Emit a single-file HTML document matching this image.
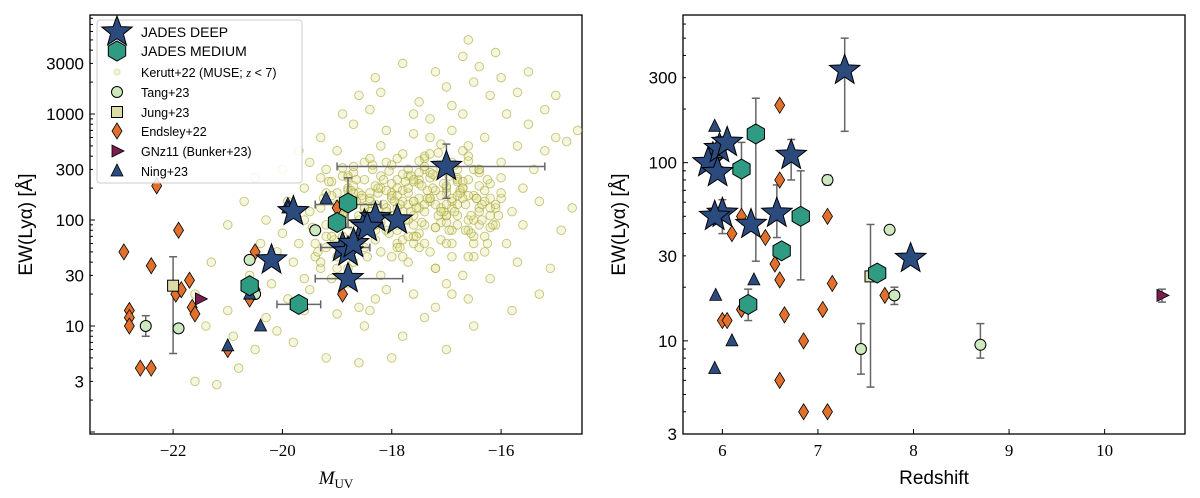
<!DOCTYPE html>
<html><head><meta charset="utf-8"><style>
html,body{margin:0;padding:0;background:#fff;}
svg{display:block;font-family:"Liberation Serif",serif;}
</style></head><body>
<svg id="c" width="1200" height="498" viewBox="0 0 1200 498" xmlns="http://www.w3.org/2000/svg"></svg>
<script>
// ---------- data ----------
const kerM=[-21.6,-21.2,-20.8,-20.5,-20.9,-20.3,-20.1,-19.8,-20.6,-20.2,-19.9,-19.6,-19.5,-19.3,-19.1,-19.4,-19.7,-20.0,-20.3,-19.9,-19.6,-19.3,-19.1,-18.9,-18.7,-18.8,-18.6,-18.5,-18.3,-18.2,-18.0,-17.9,-18.1,-18.4,-18.6,-18.8,-18.5,-18.2,-18.0,-17.8,-17.6,-17.5,-17.3,-17.2,-17.0,-16.9,-16.7,-16.5,-16.3,-16.6,-16.8,-17.0,-17.2,-17.4,-17.1,-16.9,-16.6,-16.4,-16.2,-16.0,-15.8,-15.6,-15.4,-15.2,-15.0,-14.8,-15.5,-15.9,-16.2,-16.5,-16.7,-16.9,-17.3,-17.6,-17.8,-18.1,-18.4,-18.7,-19.0,-19.2,-19.5,-17.5,-17.7,-17.9,-17.1,-17.3,-16.8,-17.6,-18.3,-18.9,-19.2,-17.4,-16.4,-16.1,-15.9,-15.7,-16.2,-16.6,-17.4,-17.8,-18.0,-18.6,-19.2,-17.0,-16.5,-15.8,-15.3,-15.1,-14.9,-14.7,-15.3,-15.6,-16.0,-16.3,-16.7,-17.0,-17.5,-17.2,-16.4,-16.0,-15.7,-15.2,-19.6,-19.4,-19.0,-18.7,-18.4,-18.2,-17.9,-17.7,-17.5,-17.7,-18.1,-18.4,-19.0,-19.8,-20.1,-20.4,-20.7,-20.5,-21.0,-21.3,-21.6,-21.4,-21.0,-20.0,-19.7,-19.3,-18.9,-18.6,-18.3,-17.8,-16.6,-16.1,-15.5,-15.0,-14.6,-17.6,-17.2,-16.9,-16.3,-18.8,-19.6,-16.0,-15.7,-16.8,-17.6,-18.2,-17.0,-17.3,-16.8,-16.5,-17.9,-18.3,-17.6,-16.9,-16.2,-17.4,-18.0,-18.7,-16.6,-17.1,-17.8];
const kerEW=[3,2.8,4,6,8,12,9,7,30,25,18,14,22,35,28,45,60,75,100,150,200,130,90,70,40,25,15,10,18,30,45,60,80,120,180,250,350,500,220,150,110,75,50,35,25,20,30,45,70,100,140,180,260,380,520,700,400,300,220,160,120,200,300,450,600,550,800,1000,1500,2000,3500,1200,900,650,420,700,1100,800,450,300,350,240,300,200,130,160,90,90,65,110,55,120,130,90,60,40,28,18,12,8,5,4.5,5,6,10,14,20,35,80,130,150,90,250,600,1000,1800,1300,2500,2800,2200,1600,1100,100,80,180,140,160,110,130,180,55,40,22,14,13,40,50,60,150,250,90,40,20,10,14,300,450,600,1000,1500,2200,3000,5000,3800,2500,1500,700,20,15,45,50,35,28,350,500,250,1000,1600,200,150,110,170,240,90,60,80,160,300,180,70,45,95,65];
const kerCoreM=[-19.4,-19.2,-19.0,-18.8,-18.6,-18.4,-18.2,-18.0,-17.8,-17.6,-17.4,-17.2,-17.0,-16.8,-16.6,-16.4,-16.2,-19.3,-19.1,-18.9,-18.7,-18.5,-18.3,-18.1,-17.9,-17.7,-17.5,-17.3,-17.1,-16.9,-16.7,-16.5,-16.3,-19.5,-19.0,-18.5,-18.0,-17.5,-17.0,-16.5,-16.0,-19.2,-18.7,-18.2,-17.7,-17.2,-16.7,-16.2,-18.9,-18.4,-17.9,-17.4,-16.9,-16.4,-18.6,-18.1,-17.6,-17.1,-16.6,-17.8,-17.3,-16.8,-18.3,-17.5,-17.0,-16.5,-19.1,-18.6,-18.0,-17.4,-16.9,-16.1,-17.7,-17.2,-16.7,-18.8,-18.3,-17.8,-17.3,-16.8,-16.3,-19.0,-18.5,-17.9,-17.2,-16.6,-17.6,-17.1,-16.4,-18.2,-17.7,-17.0,-16.6,-18.4,-17.9,-17.4,-16.9,-18.7,-18.1,-17.5];
const kerCoreEW=[60,90,140,200,75,150,260,110,190,70,320,140,95,230,170,120,85,40,170,110,280,55,210,130,380,100,160,250,65,130,200,300,150,120,45,240,160,130,210,60,180,70,320,95,140,85,450,110,260,180,55,400,150,90,100,350,230,170,500,45,600,240,140,280,110,70,230,60,170,90,350,130,200,35,160,190,80,120,420,300,190,100,130,80,190,240,150,310,280,50,260,110,80,380,90,140,60,180,120,220];
const kerCore2M=[-19.45,-19.25,-19.05,-18.85,-18.65,-18.45,-18.25,-18.05,-17.85,-17.65,-17.45,-17.25,-17.05,-16.85,-16.65,-16.45,-16.25,-16.05,-19.35,-19.15,-18.95,-18.75,-18.55,-18.35,-18.15,-17.95,-17.75,-17.55,-17.35,-17.15,-16.95,-16.75,-16.55,-16.35,-16.15,-19.2,-18.8,-18.4,-18.0,-17.6,-17.2,-16.8,-16.4,-19.0,-18.6,-18.2,-17.8,-17.4,-17.0,-16.6,-16.2,-18.9,-18.5,-18.1,-17.7,-17.3,-16.9,-16.5,-18.7,-18.3,-17.9,-17.5,-17.1,-16.7,-18.45,-17.95,-17.45,-16.95,-16.45,-18.15,-17.65,-17.15,-16.65,-19.3,-18.35,-17.85,-17.35,-16.85,-16.35,-18.55,-18.05,-17.55,-17.05,-16.55,-19.1,-18.65,-17.75,-17.25,-16.75,-16.25,-18.95,-18.25,-17.6,-17.0,-16.4,-18.75,-18.0,-17.3,-16.7,-16.1];
const kerCore2EW=[85,160,65,120,240,90,180,75,140,260,95,200,120,330,80,160,240,110,50,230,130,90,170,300,140,95,230,70,160,110,260,190,75,140,90,180,260,120,330,150,85,170,210,35,110,200,270,60,140,360,130,310,130,190,70,280,160,100,210,90,170,360,120,230,45,150,210,80,160,240,120,430,140,250,330,55,190,120,100,160,290,130,220,110,70,150,100,270,180,60,120,200,240,60,300,190,110,160,200,140];

const deepM=[-19.8,-20.2,-18.9,-18.8,-18.8,-18.5,-18.3,-17.9,-17.0,-18.7,-18.45];
const deepEWL=[120,42,55,50,28,90,105,100,320,60,85];
const medM=[-20.6,-19.7,-19.0,-18.8];
const medEWL=[24,16,95,145];
const tangM=[-22.5,-21.9,-20.6,-20.5,-19.4];
const tangEWL=[10,9.5,42,20,80];
const jungM=[-22.0];
const jungEWL=[24];
const endM=[-22.9,-22.3,-21.9,-22.4,-21.7,-22.8,-22.8,-22.8,-22.6,-22.4,-21.95,-21.85,-21.65,-21.6,-21.0,-20.5,-20.5,-20.6,-19.0,-18.9];
const endEWL=[50,210,80,37,27,14,12,10,4,4,20,22,15,13,6,22,50,18,130,20];
const gnM=[-21.5];
const gnEWL=[18];
const ningM=[-19.9,-19.2,-20.4,-21.0,-20.6,-19.9];
const ningEWL=[140,160,10,6.5,20,130];

const deepZ=[5.85,5.95,5.97,6.05,6.0,6.3,6.72,6.57,7.28,7.97,5.92];
const deepEWR=[100,88,120,130,52,45,110,52,330,29,50];
const medZ=[6.2,6.35,6.62,6.82,6.27,7.62];
const medEWR=[92,145,32,50,16,24];
const tangZ=[7.1,7.75,7.8,7.45,8.7];
const tangEWR=[80,42,18,9,9.5];
const jungZ=[7.55];
const jungEWR=[23];
const endZ=[6.6,6.6,6.2,6.45,6.55,6.6,6.0,6.2,6.65,6.6,6.85,6.85,7.1,7.1,7.05,7.15,7.7,6.1,6.05];
const endEWR=[210,80,50,38,27,22,13,15,14,6,10,4,4,50,15,21,18,40,13];
const gnZ=[10.6];
const gnEWR=[18];
const ningZ=[5.92,5.93,5.92,6.33,6.1,5.9];
const ningEWR=[160,18,7,22,10,120];

// ---------- helpers ----------
const NS="http://www.w3.org/2000/svg";
const svg=document.getElementById('c');
function mk(tag,at,parent){const e=document.createElementNS(NS,tag);for(const k in at)e.setAttribute(k,at[k]);(parent||svg).appendChild(e);return e;}
function panel(x0,x1,y0,y1,xmin,xmax,lmin,lmax){
  return {x0,x1,y0,y1,
    sx:v=>x0+(v-xmin)/(xmax-xmin)*(x1-x0),
    sy:v=>y1-(Math.log10(v)-lmin)/(lmax-lmin)*(y1-y0)};
}
const L=panel(90,582,15,434,-23.52,-14.52,-0.019,3.934);
const R=panel(683,1185,15,434,5.588,10.841,0.4771,2.829);

function star(g,x,y,r){let p=[];for(let i=0;i<10;i++){const a=-Math.PI/2+i*Math.PI/5;const rr=i%2?r*0.42:r;p.push((x+rr*Math.cos(a)).toFixed(1)+','+(y+rr*Math.sin(a)).toFixed(1));}
  return mk('polygon',{points:p.join(' '),fill:'#2b4a7e',stroke:'#000','stroke-width':1},g);}
function hexa(g,x,y,r){let p=[];for(let i=0;i<6;i++){const a=Math.PI/6+i*Math.PI/3;p.push((x+r*Math.cos(a)).toFixed(1)+','+(y+r*Math.sin(a)).toFixed(1));}
  return mk('polygon',{points:p.join(' '),fill:'#2e9b82',stroke:'#000','stroke-width':1},g);}
function circ(g,x,y){return mk('circle',{cx:x,cy:y,r:5.5,fill:'#cde9bf',stroke:'#000','stroke-width':1},g);}
function sq(g,x,y){return mk('rect',{x:x-5.5,y:y-5.5,width:11,height:11,fill:'#dcdca6',stroke:'#000','stroke-width':1},g);}
function dia(g,x,y){return mk('polygon',{points:`${x},${y-8} ${x+5},${y} ${x},${y+8} ${x-5},${y}`,fill:'#e0702c',stroke:'#000','stroke-width':0.8},g);}
function tri(g,x,y){return mk('polygon',{points:`${x},${y-7} ${x+6},${y+5} ${x-6},${y+5}`,fill:'#2b4a7e',stroke:'#000','stroke-width':0.8},g);}
function tri2(g,x,y){return mk('polygon',{points:`${x+7},${y} ${x-5},${y+6} ${x-5},${y-6}`,fill:'#7a1d4c',stroke:'#000','stroke-width':0.8},g);}
function ebar(g,x1,y1,x2,y2,horiz){mk('line',{x1,y1,x2,y2,stroke:'#666','stroke-width':1.5},g);
  if(horiz){mk('line',{x1:x1,y1:y1-4,x2:x1,y2:y1+4,stroke:'#666','stroke-width':1.5},g);mk('line',{x1:x2,y1:y2-4,x2:x2,y2:y2+4,stroke:'#666','stroke-width':1.5},g);}
  else{mk('line',{x1:x1-4,y1:y1,x2:x1+4,y2:y1,stroke:'#666','stroke-width':1.5},g);mk('line',{x1:x2-4,y1:y2,x2:x2+4,y2:y2,stroke:'#666','stroke-width':1.5},g);}}

function axes(P,name,xt,yt,xlabel,xlabelSerifItalic){
  const g=mk('g',{});
  
  
  mk('rect',{x:P.x0,y:P.y0,width:P.x1-P.x0,height:P.y1-P.y0,fill:'none',stroke:'#000','stroke-width':1.3},g);
  xt.forEach(t=>{const x=P.sx(t.v);mk('line',{x1:x,y1:P.y1,x2:x,y2:P.y1-5,stroke:'#000'},g);
    const tx=mk('text',{x:x,y:P.y1+22,'text-anchor':'middle','font-size':17},g);tx.textContent=t.l;
    
    });
  for(let d=-1;d<4;d++)for(let m=1;m<10;m++){const v=m*Math.pow(10,d);const y=P.sy(v);if(y<P.y0||y>P.y1)continue;
    mk('line',{x1:P.x0,y1:y,x2:P.x0+(m==1?5:3),y2:y,stroke:'#000'},g);}
  yt.forEach(v=>{const y=P.sy(v);const tx=mk('text',{x:P.x0-6,y:y+6,'text-anchor':'end','font-size':17,'font-family':'Liberation Sans, sans-serif'},g);tx.textContent=v;
    
    });
  const yl=mk('text',{x:0,y:0,transform:`translate(${P.x0-58},${(P.y0+P.y1)/2}) rotate(-90)`,'text-anchor':'middle','font-size':19,'font-family':'Liberation Sans, sans-serif'},g);
  yl.textContent='EW(Ly\u03B1) [\u00C5]';
  
  
  const xl=mk('text',{x:(P.x0+P.x1)/2,y:P.y1+50,'text-anchor':'middle','font-size':19},g);
  if(xlabelSerifItalic){xl.innerHTML='<tspan font-style="italic">M</tspan><tspan font-size="13" dy="4">UV</tspan>';}
  else{xl.textContent=xlabel;xl.setAttribute('font-family','Liberation Sans, sans-serif');}
  
  
  return g;
}

function series(P,name,xs,ys,fn){
  const g=mk('g',{});
  
  
  xs.forEach((v,i)=>{const el=fn(g,P.sx(v),P.sy(ys[i]));
    
    });
  return g;
}

// ---------- left panel ----------
axes(L,'left',[{v:-22,l:'\u221222'},{v:-20,l:'\u221220'},{v:-18,l:'\u221218'},{v:-16,l:'\u221216'}],[3,10,30,100,300,1000,3000],'M',true);
const kerStyle=(g,x,y)=>mk('circle',{cx:x,cy:y,r:4.3,fill:'rgba(225,225,150,0.3)',stroke:'rgba(160,160,40,0.6)','stroke-width':0.9},g);
series(L,'kerutt-cloud',kerM,kerEW,kerStyle);
series(L,'kerutt-cloud-core',kerCoreM,kerCoreEW,kerStyle);
series(L,'kerutt-cloud-core2',kerCore2M,kerCore2EW,kerStyle);
const eL=mk('g',{});


ebar(eL,L.sx(-19),L.sy(320),L.sx(-15.2),L.sy(320),true);ebar(eL,L.sx(-17),L.sy(160),L.sx(-17),L.sy(520),false);
ebar(eL,L.sx(-19.4),L.sy(28),L.sx(-17.8),L.sy(28),true);ebar(eL,L.sx(-19.3),L.sy(55),L.sx(-18.4),L.sy(55),true);
ebar(eL,L.sx(-20.1),L.sy(16),L.sx(-19.3),L.sy(16),true);ebar(eL,L.sx(-18.8),L.sy(85),L.sx(-18.8),L.sy(250),false);
ebar(eL,L.sx(-22),L.sy(5.5),L.sx(-22),L.sy(45),false);ebar(eL,L.sx(-22.5),L.sy(8),L.sx(-22.5),L.sy(12.5),false);
ebar(eL,L.sx(-19.4),L.sy(140),L.sx(-18.2),L.sy(140),true);
series(L,'endsley-left',endM,endEWL,dia);
series(L,'tang-left',tangM,tangEWL,circ);
series(L,'jung-left',jungM,jungEWL,sq);
series(L,'gnz11-left',gnM,gnEWL,tri2);
series(L,'ning-left',ningM,ningEWL,tri);
series(L,'jades-medium-left',medM,medEWL,(g,x,y)=>hexa(g,x,y,10));
series(L,'jades-deep-left',deepM,deepEWL,(g,x,y)=>star(g,x,y,16));

// legend
const lg=mk('g',{});


mk('rect',{x:97,y:20,width:205,height:163,rx:3,fill:'rgba(255,255,255,0.85)',stroke:'#ccc'},lg);
const items=[['JADES DEEP',(g,x,y)=>star(g,x,y,16),14],['JADES MEDIUM',(g,x,y)=>hexa(g,x,y,10),14],['Kerutt+22 (MUSE; z < 7)',(g,x,y)=>mk('circle',{cx:x,cy:y,r:3,fill:'#f3f3d8',stroke:'#e0e0b0'},g),12.5],['Tang+23',circ,12.5],['Jung+23',sq,12.5],['Endsley+22',dia,12.5],['GNz11 (Bunker+23)',tri2,12.5],['Ning+23',tri,12.5]];
const ly=[32,51,72,92,112,131,151,171];
items.forEach((it,i)=>{const e=mk('g',{},lg);
  
  
  it[1](e,117,ly[i]);
  const t=mk('text',{x:141,y:ly[i]+5,'font-size':it[2],'font-family':'Liberation Sans, sans-serif'},e);
  if(i==2){t.innerHTML='Kerutt+22 (MUSE; <tspan font-style="italic" font-family="Liberation Serif">z</tspan> &lt; 7)';}else t.textContent=it[0];});

// ---------- right panel ----------
axes(R,'right',[6,7,8,9,10].map(v=>({v,l:String(v)})),[3,10,30,100,300],'Redshift',false);
const eR=mk('g',{});


[[7.28,150,500],[6.72,80,135],[6.35,28,230],[6.2,50,130],[6.82,22,90],[7.55,5.5,45],[8.7,8,12.5],[7.45,6.5,12.5],[6.27,13,19.5],[10.6,16.5,19.5],[6.57,38,75],[6.0,40,62],[5.97,95,140],[7.1,75,85],[7.8,16,20]].forEach(b=>ebar(eR,R.sx(b[0]),R.sy(b[1]),R.sx(b[0]),R.sy(b[2]),false));
series(R,'endsley-right',endZ,endEWR,dia);
series(R,'tang-right',tangZ,tangEWR,circ);
series(R,'jung-right',jungZ,jungEWR,sq);
series(R,'gnz11-right',gnZ,gnEWR,tri2);
series(R,'ning-right',ningZ,ningEWR,tri);
series(R,'jades-medium-right',medZ,medEWR,(g,x,y)=>hexa(g,x,y,10));
series(R,'jades-deep-right',deepZ,deepEWR,(g,x,y)=>star(g,x,y,16));
</script>
</body></html>
